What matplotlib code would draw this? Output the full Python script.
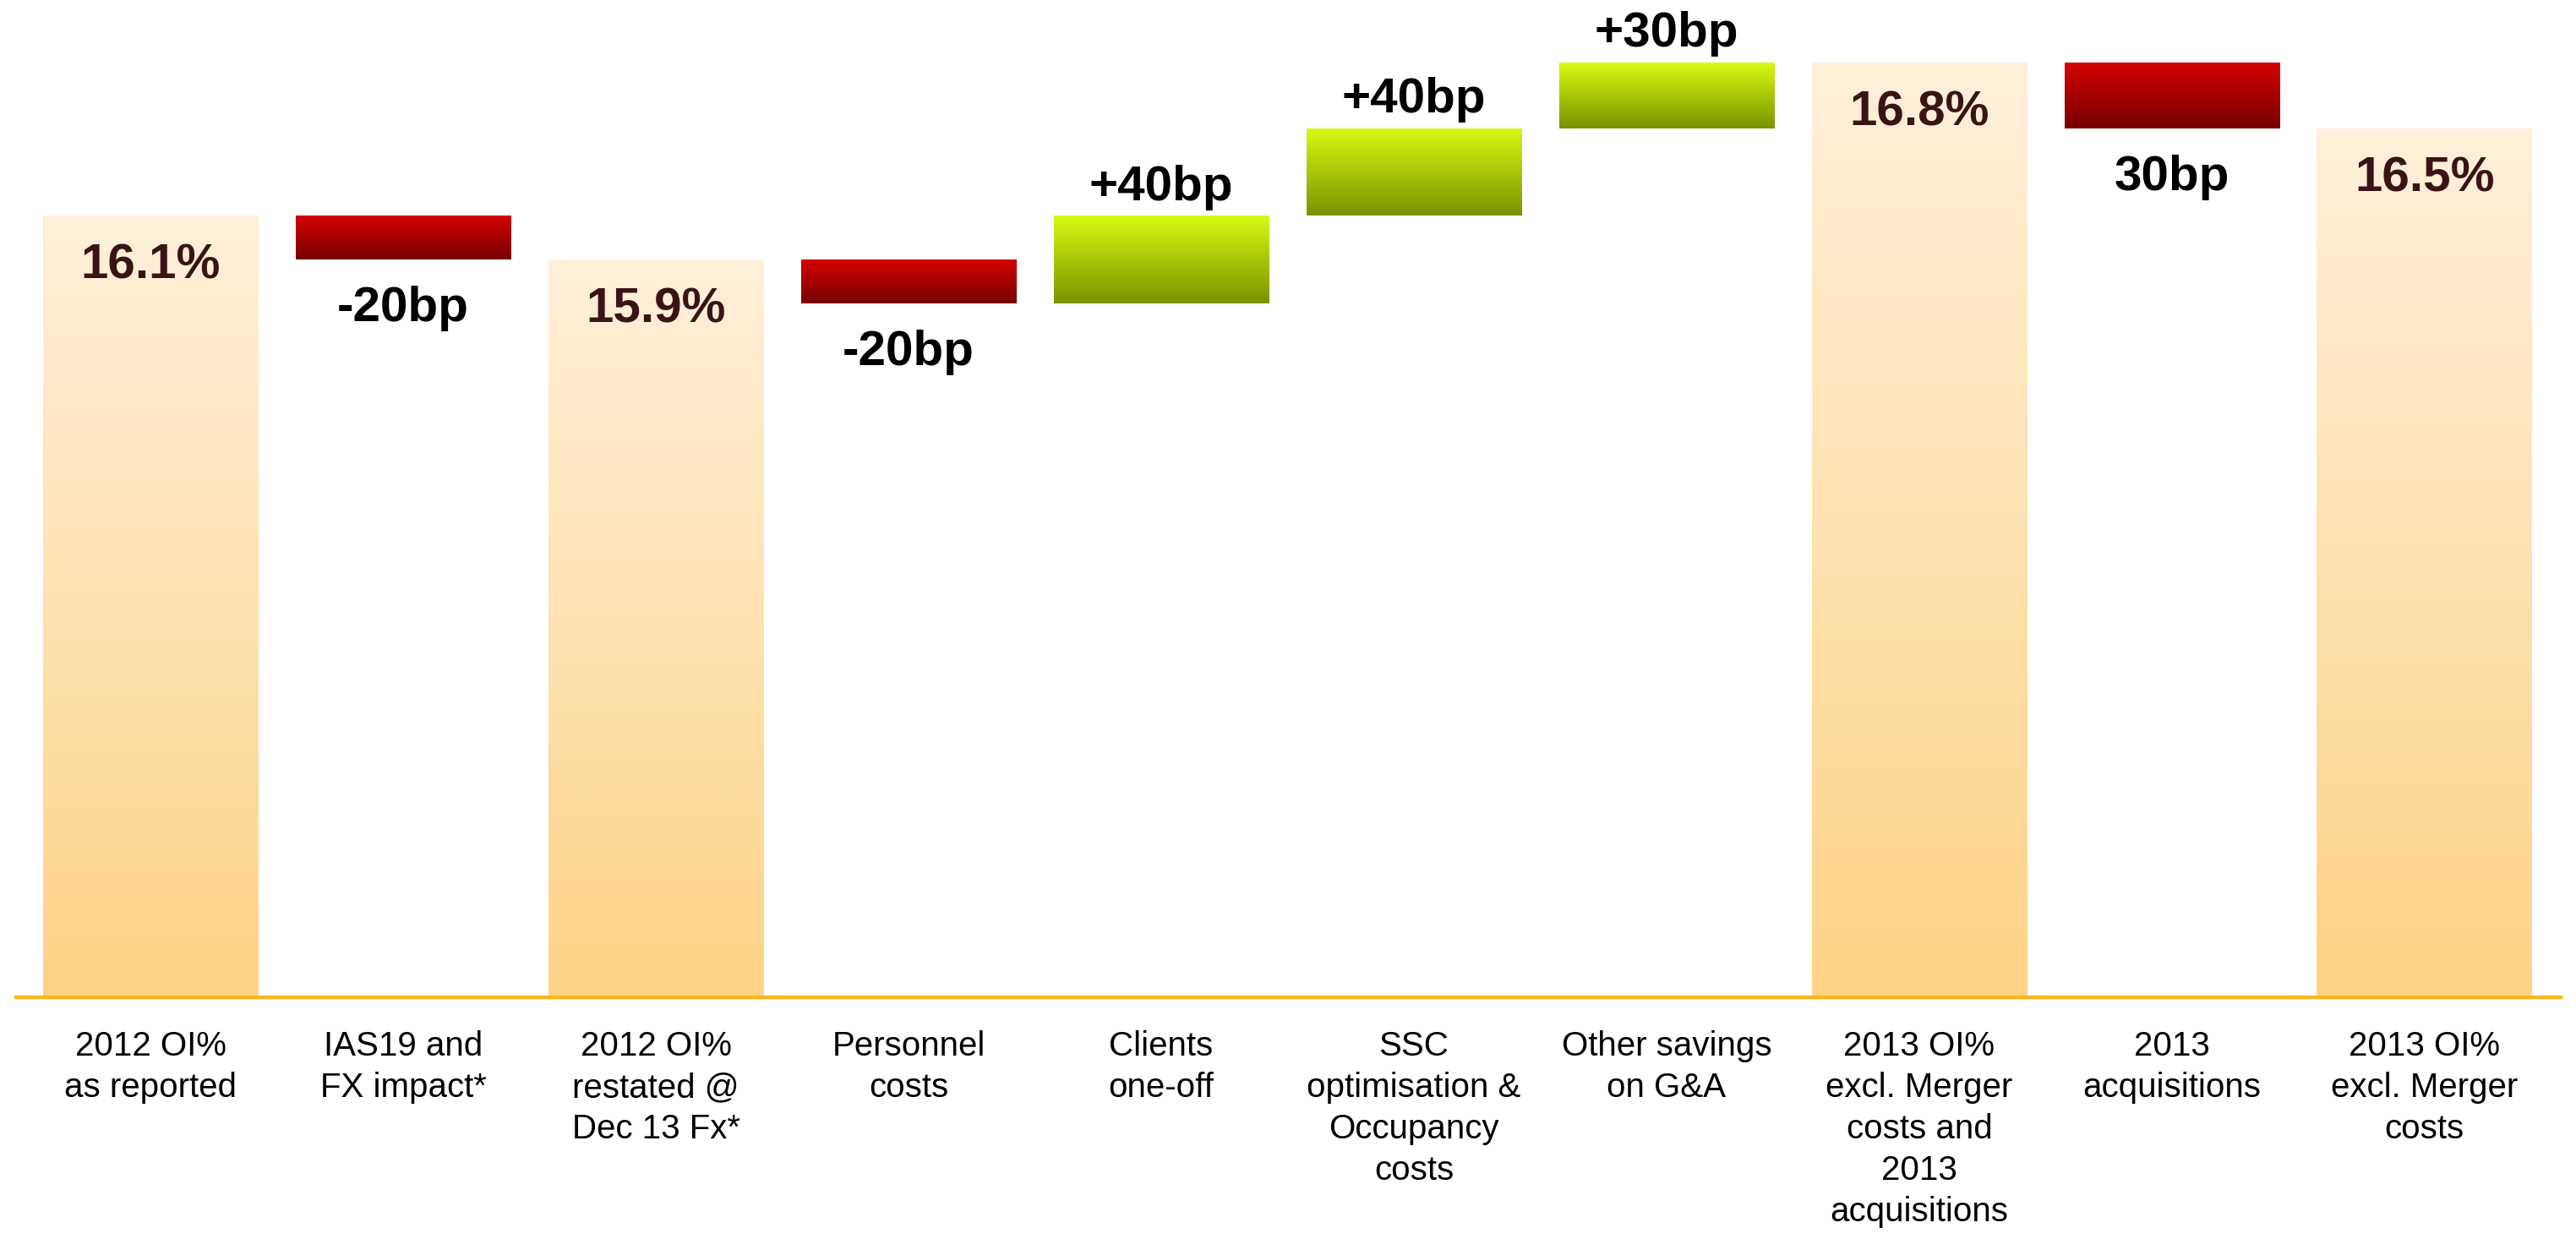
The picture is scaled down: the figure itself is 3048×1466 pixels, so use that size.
#! /usr/bin/env python

import numpy as np
import matplotlib
matplotlib.use('Agg')
import matplotlib.pyplot as plt
from matplotlib.colors import LinearSegmentedColormap

plt.rcParams['font.family'] = ['Liberation Sans Narrow', 'Liberation Sans', 'DejaVu Sans']

categories = ['2012 OI%\nas reported', 'IAS19 and\nFX impact*', '2012 OI%\nrestated @\nDec 13 Fx*',
              'Personnel\ncosts', 'Clients\none-off', 'SSC\noptimisation &\nOccupancy\ncosts',
              'Other savings\non G&A', '2013 OI%\nexcl. Merger\ncosts and\n2013\nacquisitions',
              '2013\nacquisitions', '2013 OI%\nexcl. Merger\ncosts']
kinds = ['total', 'delta', 'total', 'delta', 'delta', 'delta', 'delta', 'total', 'delta', 'total']
values = [16.1, -0.2, 15.9, -0.2, 0.4, 0.4, 0.3, 16.8, -0.3, 16.5]
value_labels = ['16.1%', '-20bp', '15.9%', '-20bp', '+40bp', '+40bp', '+30bp', '16.8%', '30bp', '16.5%']

y_floor = 12.53
y_top = 17.086

# gradient colour maps (top colour first)
cmap_total = LinearSegmentedColormap.from_list('tot', ['#FFF0DA', '#FDD386'])
cmap_neg = LinearSegmentedColormap.from_list('neg', ['#D40000', '#760000'])
cmap_pos = LinearSegmentedColormap.from_list('pos', ['#D9FA12', '#7A9200'])

W, H = 3048, 1466
fig = plt.figure(figsize=(W / 200, H / 200), dpi=200)
ax = fig.add_axes([19 / W, 1 - 1180 / H, (3030 - 19) / W, 1180 / H])

x = np.arange(len(categories))
bottoms = []
heights = []
level = 0.0
for k, v in zip(kinds, values):
    if k == 'total':
        bottoms.append(y_floor)
        heights.append(v - y_floor)
        level = v
    else:
        bottoms.append(level)
        heights.append(v)
        level += v

bars = ax.bar(x, heights, bottom=bottoms, width=0.852, facecolor='none', edgecolor='none')

grad = np.linspace(0, 1, 256).reshape(-1, 1)
for bar, k, v in zip(bars, kinds, values):
    x0, y0 = bar.get_x(), bar.get_y()
    x1, y1 = x0 + bar.get_width(), y0 + bar.get_height()
    lo, hi = min(y0, y1), max(y0, y1)
    if k == 'total':
        cm = cmap_total
    elif v < 0:
        cm = cmap_neg
    else:
        cm = cmap_pos
    im = ax.imshow(grad, cmap=cm, extent=[x0, x1, lo, hi], origin='upper',
                   aspect='auto', zorder=1, interpolation='bicubic')
    im.set_clip_path(bar)

# value labels
for xi, k, b, h, v, lab in zip(x, kinds, bottoms, heights, values, value_labels):
    top = b + h
    if k == 'total':
        ax.text(xi, top - 0.23, lab, ha='center', va='center', fontsize=21,
                fontweight='bold', color='#3A1414', zorder=3)
    elif v < 0:
        ax.text(xi, top - 0.225, lab, ha='center', va='center', fontsize=21,
                fontweight='bold', color='black', zorder=3)
    else:
        ax.text(xi, top + 0.13, lab, ha='center', va='center', fontsize=21,
                fontweight='bold', color='black', zorder=3)

ax.set_xlim(-0.532, 9.539)
ax.set_ylim(y_floor, y_top)
ax.set_xticks(x)
ax.set_xticklabels(categories, fontsize=14.5, linespacing=1.37, color='black')
ax.tick_params(axis='x', length=0, pad=14)
ax.set_yticks([])
for s in ['top', 'left', 'right']:
    ax.spines[s].set_visible(False)
ax.spines['bottom'].set_color('#FDB71A')
ax.spines['bottom'].set_linewidth(1.6)
ax.spines['bottom'].set_zorder(4)

fig.savefig('out.png', dpi=200)
